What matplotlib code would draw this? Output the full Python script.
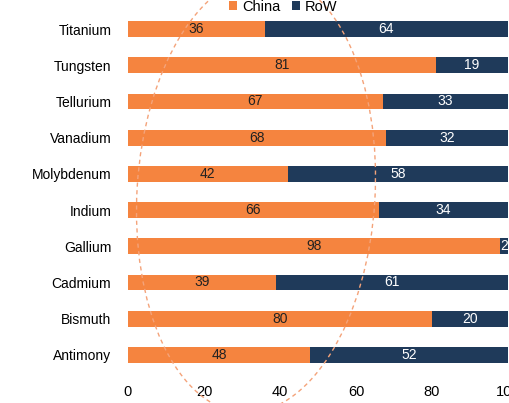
import matplotlib.pyplot as plt
from matplotlib.patches import Ellipse

plt.rcParams["font.family"] = ["Liberation Sans", "DejaVu Sans"]

metals = ["Titanium", "Tungsten", "Tellurium", "Vanadium", "Molybdenum",
          "Indium", "Gallium", "Cadmium", "Bismuth", "Antimony"]
china = [36, 81, 67, 68, 42, 66, 98, 39, 80, 48]
row = [64, 19, 33, 32, 58, 34, 2, 61, 20, 52]
x_ticks = [0, 20, 40, 60, 80, 100]

c_china = "#F5843F"
c_row = "#1F3A5A"

fig = plt.figure(figsize=(5.10, 4.03), dpi=100)
ax = fig.add_axes([128 / 510, 1 - 373 / 403, 380 / 510, 362 / 403])

ypos = list(range(len(metals)))
b1 = ax.barh(ypos, china, height=0.44, color=c_china, label="China")
b2 = ax.barh(ypos, row, left=china, height=0.44, color=c_row, label="RoW")

for y, c, r in zip(ypos, china, row):
    ax.text(c / 2, y, str(c), ha="center", va="center", fontsize=10, color="#222222")
    ax.text(c + r / 2, y, str(r), ha="center", va="center", fontsize=10, color="white")

ax.set_xlim(0, 100)
ax.set_ylim(len(metals) - 0.5, -0.5)
ax.set_yticks(ypos)
ax.set_yticklabels(metals, fontsize=10)
ax.set_xticks(x_ticks)
ax.set_xticklabels([str(t) for t in x_ticks], fontsize=10.5)
ax.tick_params(axis="both", length=0)
ax.tick_params(axis="y", pad=12)
ax.tick_params(axis="x", pad=9)
for s in ax.spines.values():
    s.set_visible(False)

fig.legend(handles=[b1, b2], loc="center", bbox_to_anchor=(283 / 510, 1 - 7 / 403),
           ncol=2, frameon=False, fontsize=10.5, handlelength=0.6, handleheight=0.6,
           handletextpad=0.3, columnspacing=0.8, borderpad=0)

# dashed highlight ring, slightly tilted, laid out in inches
ring = Ellipse((2.56, 4.03 - 1.94), 2.38, 4.38, angle=-3.5,
               transform=fig.dpi_scale_trans, fill=False, edgecolor="#F4A37A",
               linewidth=1.0, linestyle=(0, (3, 2.5)))
fig.add_artist(ring)

fig.savefig("out.png", dpi=100)
